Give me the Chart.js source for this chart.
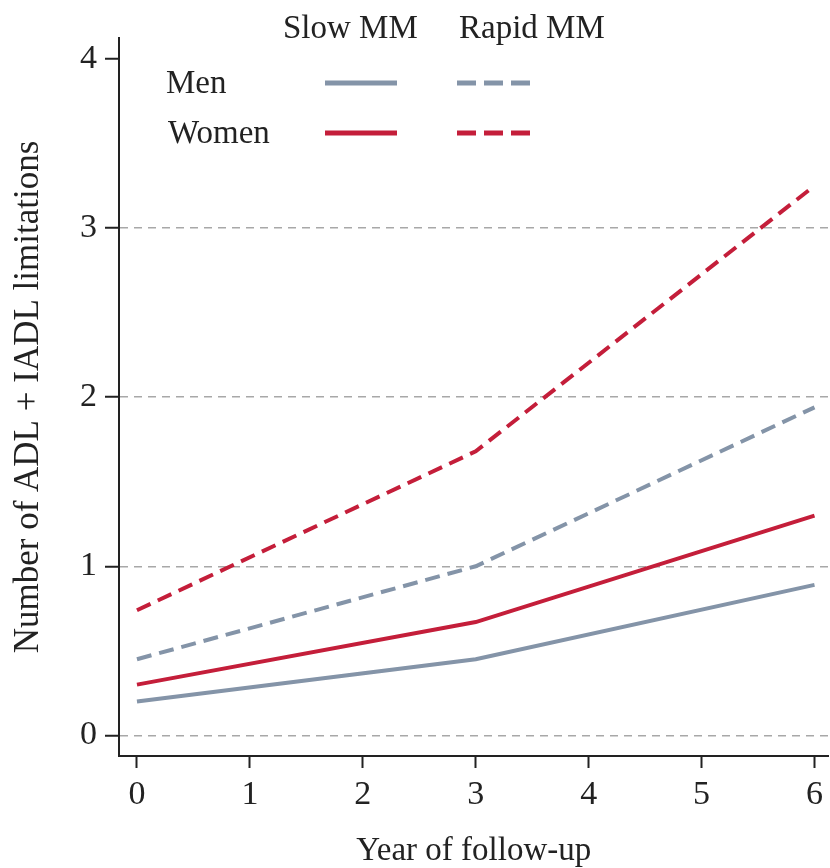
<!DOCTYPE html>
<html>
<head>
<meta charset="utf-8">
<script src="https://cdn.jsdelivr.net/npm/chart.js@4/dist/chart.umd.min.js"></script>
<style>
  html, body { margin: 0; padding: 0; background: #fff; }
  #wrap { width: 830px; height: 868px; }
</style>
</head>
<body>
<div id="wrap"><canvas id="adl-chart" width="830" height="868"></canvas></div>
<script>
// data
const years = [0, 3, 6]
const menSlow = [0.20, 0.45, 0.89]
const womenSlow = [0.30, 0.67, 1.30]
const menRapid = [0.45, 1.00, 1.94]
const womenRapid = [0.74, 1.68, 3.25]

const xTicks = [0, 1, 2, 3, 4, 5, 6]
const yTicks = [0, 1, 2, 3, 4]
const groupLabels = ['Slow MM', 'Rapid MM']
const sexLabels = ['Men', 'Women']

const menColor = '#8494a8'
const womenColor = '#c41e3a'
const fontFamily = '"Liberation Serif", "Times New Roman", serif'

const toPoints = vals => years.map((x, i) => ({ x: x, y: vals[i] }))

/*
 * Legend is a small 2x2 table, so draw it ourselves
 */
const tableLegend = {
  id: 'tableLegend',
  afterDraw(chart) {
    const ctx = chart.ctx
    ctx.save()
    ctx.font = '33px ' + fontFamily
    ctx.fillStyle = '#222'
    ctx.textBaseline = 'alphabetic'
    ctx.fillText(groupLabels[0], 283, 38)
    ctx.fillText(groupLabels[1], 459, 38)
    ctx.fillText(sexLabels[0], 166, 93)
    ctx.fillText(sexLabels[1], 168, 143)

    const rows = [[menColor, 83], [womenColor, 133]]
    ctx.lineWidth = 5
    rows.forEach(([color, y]) => {
      ctx.strokeStyle = color
      ctx.setLineDash([])
      ctx.beginPath(); ctx.moveTo(325, y); ctx.lineTo(397, y); ctx.stroke()
      ctx.setLineDash([19, 8])
      ctx.beginPath(); ctx.moveTo(457, y); ctx.lineTo(530, y); ctx.stroke()
    })
    ctx.restore()
  }
}

const lineSet = (label, vals, color, dash) => ({
  label: label,
  data: toPoints(vals),
  borderColor: color,
  backgroundColor: color,
  borderWidth: 4,
  borderDash: dash,
  pointRadius: 0,
  tension: 0,
  fill: false
})

const adlCtx = document.getElementById('adl-chart').getContext('2d')

const adlChart = new Chart(adlCtx, {
  type: 'line',
  data: {
    datasets: [
      lineSet('Men, Slow MM', menSlow, menColor, []),
      lineSet('Women, Slow MM', womenSlow, womenColor, []),
      lineSet('Men, Rapid MM', menRapid, menColor, [15, 8]),
      lineSet('Women, Rapid MM', womenRapid, womenColor, [15, 8])
    ]
  },
  options: {
    responsive: false,
    animation: false,
    layout: { padding: { top: 38, right: 0, left: 0, bottom: 0 } },
    plugins: {
      legend: { display: false },
      tooltip: { enabled: false }
    },
    scales: {
      x: {
        type: 'linear',
        min: -0.159,
        max: 6.124,
        afterBuildTicks: s => { s.ticks = xTicks.map(v => ({ value: v })) },
        afterFit: s => { s.height = 112 },
        border: { display: true, color: '#222', width: 2 },
        grid: {
          drawOnChartArea: false,
          drawTicks: true,
          tickLength: 12,
          tickColor: '#222',
          tickWidth: 2
        },
        ticks: {
          color: '#222',
          padding: 7,
          maxRotation: 0,
          font: { family: fontFamily, size: 34 }
        },
        title: {
          display: true,
          text: 'Year of follow-up',
          color: '#222',
          padding: { top: 0, bottom: 0 },
          font: { family: fontFamily, size: 33, lineHeight: 1 }
        }
      },
      y: {
        type: 'linear',
        min: -0.122,
        max: 4.124,
        afterBuildTicks: s => { s.ticks = yTicks.map(v => ({ value: v })) },
        afterFit: s => { s.width = 119 },
        border: { display: true, color: '#222', width: 2, dash: [8, 6] },
        grid: {
          drawTicks: true,
          tickLength: 14,
          tickColor: '#222',
          tickWidth: 2,
          tickBorderDash: [],
          color: c => (c.tick && c.tick.value === 4) ? 'rgba(0,0,0,0)' : '#a8a8a8',
          lineWidth: 1.5
        },
        ticks: {
          color: '#222',
          padding: 8,
          font: { family: fontFamily, size: 34 }
        },
        title: {
          display: true,
          text: 'Number of ADL + IADL limitations',
          color: '#222',
          padding: { top: 8, bottom: 0 },
          font: { family: fontFamily, size: 35 }
        }
      }
    }
  },
  plugins: [tableLegend]
})
</script>
</body>
</html>
